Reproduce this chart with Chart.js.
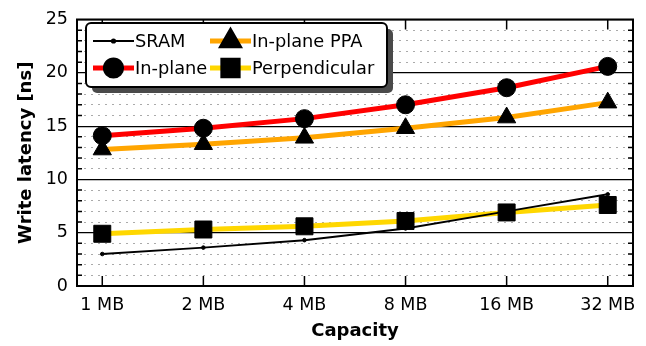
<!DOCTYPE html>
<html><head><meta charset="utf-8">
<script src="https://cdn.jsdelivr.net/npm/chart.js@4"></script>
<style>html,body{margin:0;padding:0;background:#fff}</style>
</head><body>
<canvas id="c" width="646" height="346"></canvas>
<script>
// values
const capacities = ['1 MB', '2 MB', '4 MB', '8 MB', '16 MB', '32 MB'];
const sram = [3.0, 3.6, 4.3, 5.4, 7.0, 8.6];
const inPlane = [14.1, 14.8, 15.7, 17.0, 18.6, 20.6];
const inPlanePPA = [12.8, 13.3, 13.9, 14.8, 15.8, 17.2];
const perpendicular = [4.9, 5.3, 5.6, 6.1, 6.9, 7.6];
const yMajor = [0, 5, 10, 15, 20, 25];

const FONT = 'DejaVu Sans';
const toPoints = arr => arr.map((v, i) => ({ x: i, y: v }));

// frame + inward tick marks
const frame = {
  id: 'frame',
  afterDatasetsDraw(chart) {
    const { ctx, chartArea: a, scales } = chart;
    ctx.save();
    ctx.strokeStyle = '#000';
    ctx.lineWidth = 1.5;
    capacities.forEach((c, i) => {
      const px = scales.x.getPixelForValue(i);
      ctx.beginPath();
      ctx.moveTo(px, a.bottom); ctx.lineTo(px, a.bottom - 10);
      ctx.moveTo(px, a.top); ctx.lineTo(px, a.top + 10);
      ctx.stroke();
    });
    for (let v = 1; v < 25; v++) {
      if (v % 5 === 0) continue;
      const py = scales.y.getPixelForValue(v);
      ctx.beginPath();
      ctx.moveTo(a.left, py); ctx.lineTo(a.left + 5, py);
      ctx.moveTo(a.right, py); ctx.lineTo(a.right - 5, py);
      ctx.stroke();
    }
    ctx.lineWidth = 2;
    ctx.strokeRect(a.left, a.top, a.right - a.left, a.bottom - a.top);
    ctx.restore();
  }
};

function roundRect(ctx, x, y, w, h, r) {
  ctx.beginPath();
  ctx.moveTo(x + r, y);
  ctx.arcTo(x + w, y, x + w, y + h, r);
  ctx.arcTo(x + w, y + h, x, y + h, r);
  ctx.arcTo(x, y + h, x, y, r);
  ctx.arcTo(x, y, x + w, y, r);
  ctx.closePath();
}

// two-column legend box with a drop shadow
const boxLegend = {
  id: 'boxLegend',
  afterDraw(chart) {
    const ctx = chart.ctx;
    const x0 = 86, y0 = 23, w = 301, h = 64;
    ctx.save();
    ctx.fillStyle = '#4a4a4a';
    roundRect(ctx, x0 + 6, y0 + 6, w, h, 5); ctx.fill();
    ctx.fillStyle = '#fff';
    ctx.strokeStyle = '#000';
    ctx.lineWidth = 2;
    roundRect(ctx, x0, y0, w, h, 5); ctx.fill(); ctx.stroke();
    const slots = [[93, 41], [93, 68], [210, 41], [210, 68]];
    ctx.font = '17.8px "' + FONT + '"';
    ctx.textBaseline = 'middle';
    chart.data.datasets.forEach((ds, i) => {
      const [lx, ly] = slots[i];
      ctx.strokeStyle = ds.borderColor;
      ctx.lineWidth = ds.borderWidth;
      ctx.beginPath(); ctx.moveTo(lx, ly); ctx.lineTo(lx + 41, ly); ctx.stroke();
      ctx.fillStyle = '#000'; ctx.strokeStyle = '#000';
      Chart.helpers.drawPoint(ctx, { pointStyle: ds.pointStyle, radius: ds.pointRadius * 0.9, rotation: 0, borderWidth: 1 }, lx + 20.5, ly);
      ctx.fillStyle = '#000';
      ctx.fillText(ds.label, lx + 42, ly + 1);
    });
    ctx.restore();
  }
};

const series = (label, data, color, width, style, radius) => ({
  label, data: toPoints(data),
  borderColor: color, borderWidth: width,
  pointStyle: style, pointRadius: radius,
  pointBackgroundColor: '#000', pointBorderColor: '#000', pointBorderWidth: 1,
  showLine: true
});

new Chart(document.getElementById('c'), {
  type: 'scatter',
  data: {
    datasets: [
      series('SRAM', sram, '#000', 2, 'circle', 1.8),
      series('In-plane', inPlane, '#ff0000', 5, 'circle', 9),
      series('In-plane PPA', inPlanePPA, '#ffa500', 5, 'triangle', 10.5),
      series('Perpendicular', perpendicular, '#ffd700', 5, 'rect', 12)
    ]
  },
  options: {
    responsive: false,
    animation: false,
    layout: { padding: { top: 13, left: 0, right: 0, bottom: 0 } },
    plugins: { legend: { display: false }, tooltip: { enabled: false } },
    scales: {
      x: {
        type: 'linear', min: -0.25, max: 5.25,
        afterBuildTicks: s => { s.ticks = capacities.map((c, i) => ({ value: i })); },
        afterFit: s => { s.height = 60; },
        grid: { display: false, drawTicks: false },
        border: { display: false },
        ticks: {
          padding: 9, color: '#000', font: { family: FONT, size: 17.5 },
          maxRotation: 0, callback: v => capacities[v]
        },
        title: { display: true, text: 'Capacity', color: '#000', padding: { top: 4 }, font: { family: FONT, size: 18, weight: 'bold' } }
      },
      y: {
        min: 0, max: 25,
        afterBuildTicks: s => { s.ticks = yMajor.map(v => ({ value: v })); },
        afterFit: s => { s.width = 77; },
        grid: { color: '#000', lineWidth: 1.2, drawTicks: false },
        border: { display: false },
        ticks: { padding: 9, color: '#000', font: { family: FONT, size: 17.5 } },
        title: { display: true, text: 'Write latency [ns]', color: '#000', padding: { top: 16, bottom: 0 }, font: { family: FONT, size: 18, weight: 'bold' } }
      },
      y2: {
        position: 'right', min: 0, max: 25,
        afterFit: s => { s.width = 13; },
        ticks: { display: false, stepSize: 1 },
        grid: {
          drawTicks: false, lineWidth: 1,
          color: c => (c.tick && c.tick.value % 5 === 0) ? 'rgba(0,0,0,0)' : '#aaaaaa'
        },
        border: { display: false, dash: [2, 5] }
      }
    }
  },
  plugins: [frame, boxLegend]
});
</script>
</body></html>
